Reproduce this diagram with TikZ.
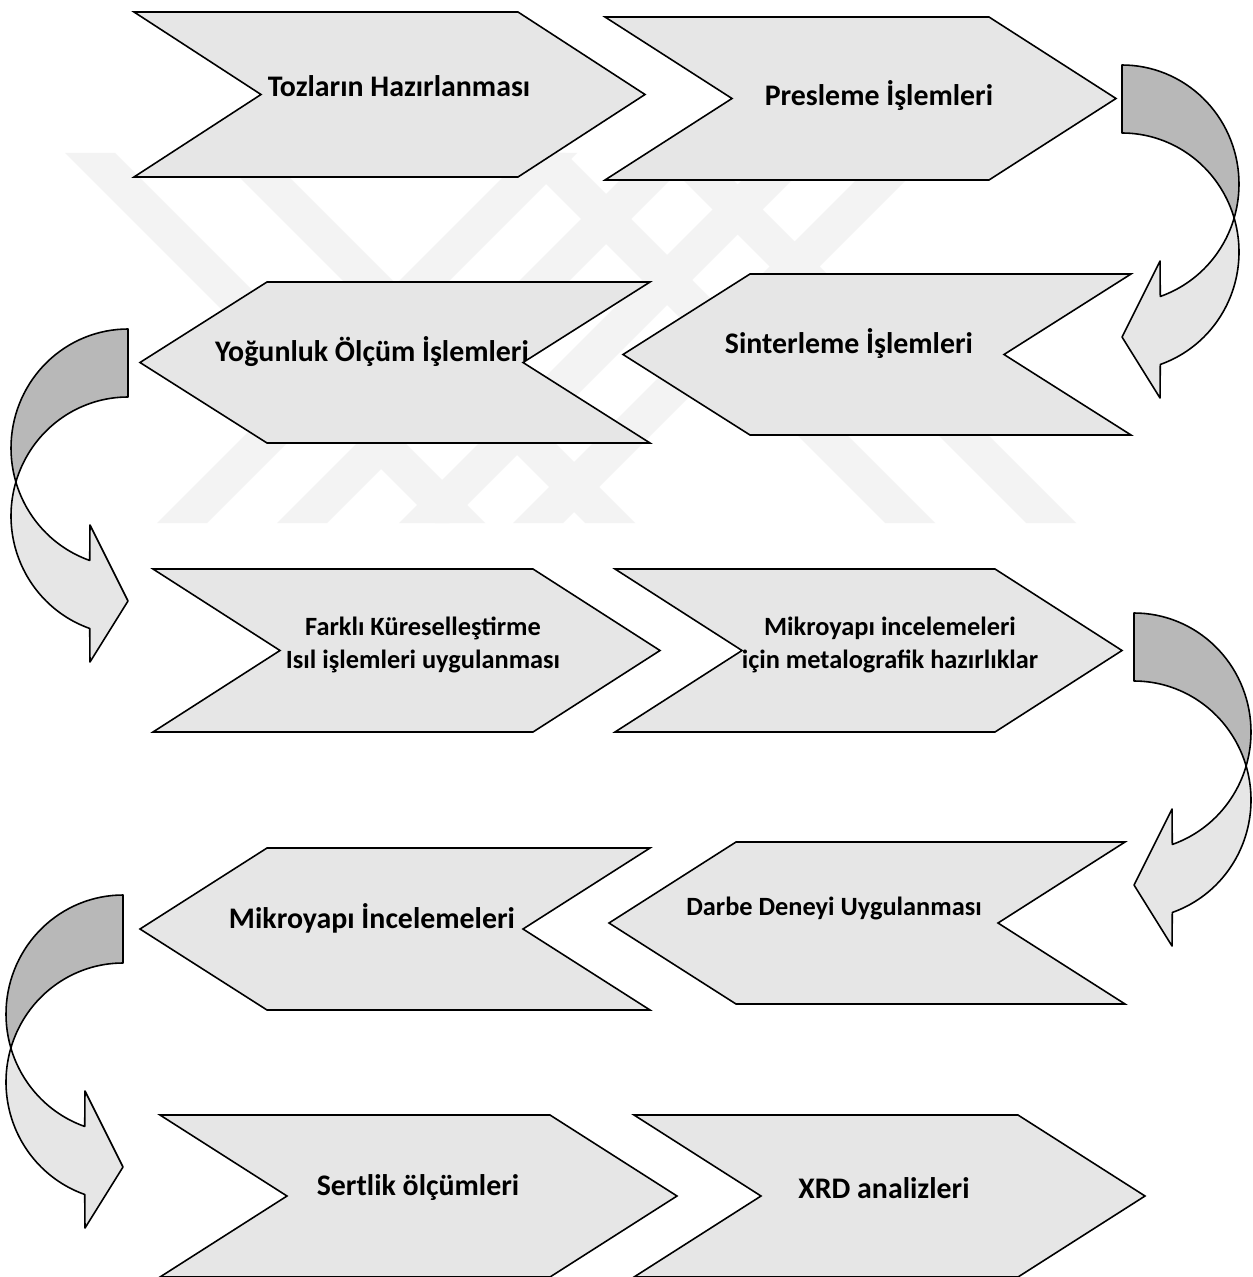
\documentclass[tikz,border=0pt]{standalone}
\usepackage{fontspec}
\setmainfont{Carlito}
\definecolor{chevfill}{HTML}{E6E6E6}
\definecolor{arrdarkc}{HTML}{B8B8B8}
\definecolor{wmgray}{HTML}{F3F3F3}
\newcommand\chevR[4]{% left x, top y, tip x, bottom y
  \draw[chev] (#1,-#2) -- ({#3-127},-#2) -- (#3,{-(#2+#4)/2}) -- ({#3-127},-#4) -- (#1,-#4) -- ({#1+127},{-(#2+#4)/2}) -- cycle;}
\newcommand\chevL[4]{% tip x, top y, right x, bottom y
  \draw[chev] (#1,{-(#2+#4)/2}) -- ({#1+127},-#2) -- (#3,-#2) -- ({#3-127},{-(#2+#4)/2}) -- (#3,-#4) -- ({#1+127},-#4) -- cycle;}
\newcommand\curvarrow[3]{% tail x, top y, direction (1 right, -1 left)
  \begin{scope}[shift={(#1,-#2)}, xscale=#3]
    \filldraw[arrline, fill=arrdarkc] plot[domain=90:-16.6, samples=40] ({117*cos(\x)},{-119+119*sin(\x)})
      -- plot[domain=16.6:90, samples=40] ({117*cos(\x)},{-187+119*sin(\x)}) -- cycle;
    \filldraw[arrline, fill=chevfill] plot[domain=16.6:-70.9, samples=50] ({117*cos(\x)},{-187+119*sin(\x)})
      -- (38,-333) -- (0,-272) -- (38,-196)
      -- plot[domain=-70.9:-16.6, samples=40] ({117*cos(\x)},{-119+119*sin(\x)}) -- cycle;
  \end{scope}}
\begin{document}
\begin{tikzpicture}[x=0.02cm, y=0.02cm,
  chev/.style={draw=black, fill=chevfill, line width=0.9pt, line join=miter},
  arrline/.style={draw=black, line width=0.9pt, line join=round},
  lbl/.style={font=\bfseries\fontsize{17}{20}\selectfont, inner sep=0pt, anchor=center},
  lblsm/.style={font=\bfseries\fontsize{15}{18.7}\selectfont, inner sep=0pt, align=center, anchor=center},
  wm/.style={fill=wmgray}]
\fill[white] (0,0) rectangle (1253,-1277);
\useasboundingbox (0,0) rectangle (1253,-1277);
% faint watermark
\begin{scope}
  \clip (0,-153) rectangle (1253,-523);
  \foreach \a/\b in {65/435, 215/585, 527/157, 647/277, 769/399, 883/513, 515/885, 656/1026}{
    \fill[wm] (\a,-153) -- ({\a+50},-153) -- ({\b+50},-523) -- (\b,-523) -- cycle;}
\end{scope}
% chevrons
\chevR{134}{12}{645}{177}
\chevR{605}{17}{1116}{180}
\chevL{140}{282}{650}{443}
\chevL{623}{274}{1131}{435}
\chevR{153}{569}{660}{732}
\chevR{615}{569}{1122}{732}
\chevL{140}{848}{650}{1010}
\chevL{609}{842}{1125}{1004}
\chevR{160}{1115}{677}{1277}
\chevR{634}{1115}{1145}{1277}
% curved arrows
\curvarrow{1122}{65}{1}
\curvarrow{128}{329}{-1}
\curvarrow{1134}{613}{1}
\curvarrow{123}{895}{-1}
% labels
\node[lbl] (t1) at (399,-86) {Tozların Hazırlanması};
\node[lbl] (t2) at (879,-96) {Presleme İşlemleri};
\node[lbl] (t3) at (372,-352) {Yoğunluk Ölçüm İşlemleri};
\node[lbl] (t4) at (849,-344) {Sinterleme İşlemleri};
\node[lblsm] (t5) at (423,-645) {Farklı Küreselleştirme\\Isıl işlemleri uygulanması};
\node[lblsm] (t6) at (890,-645) {Mikroyapı incelemeleri\\için metalografik hazırlıklar};
\node[lbl] (t7) at (372,-918) {Mikroyapı İncelemeleri};
\node[lblsm] (t8) at (834,-908) {Darbe Deneyi Uygulanması};
\node[lbl] (t9) at (418,-1188) {Sertlik ölçümleri};
\node[lbl] (t10) at (884,-1188) {XRD analizleri};
\end{tikzpicture}
\end{document}
